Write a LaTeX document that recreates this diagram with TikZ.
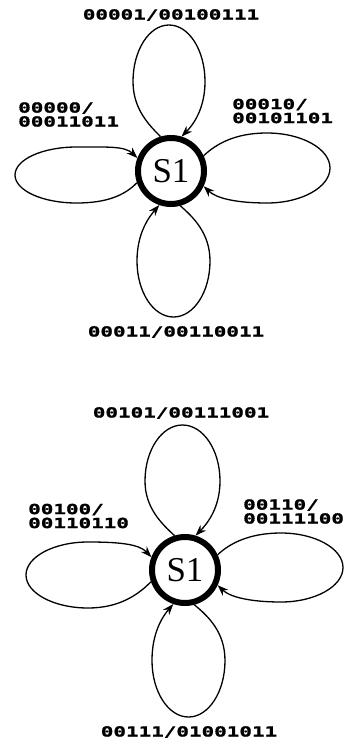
\documentclass[tikz,border=0pt]{standalone}
\usepackage{fontspec}
\newfontfamily\lblfont[FakeStretch=1.5,FakeBold=1.2]{DejaVu Sans Mono Bold}
\newfontfamily\statefont{Liberation Serif}
\usetikzlibrary{arrows.meta}
\begin{document}
\begin{tikzpicture}[x=1bp,y=-1bp,
  state/.style={circle,draw,line width=6bp,minimum size=66bp,inner sep=0pt,font=\statefont\fontsize{35}{35}\selectfont},
  selfloop/.style={line width=1.3bp,-{Stealth[length=11bp,width=8bp]}},
  lbl/.style={font=\lblfont\fontsize{14}{14}\selectfont,inner sep=0pt,align=left}]
\useasboundingbox (0,0) rectangle (348,741);
% ---------- top diagram ----------
\begin{scope}[shift={(171,171)}]
  \node[state] (a) at (0,0) {S1};
  % top loop
  \draw[selfloop] (a.107) .. controls (-22,-46) and (-38,-62) .. (-38,-89.5)
        .. controls (-38,-120.7) and (-21.9,-146) .. (-2,-146)
        .. controls (17.9,-146) and (34,-120.7) .. (34,-89.5)
        .. controls (34,-62) and (22,-46) .. (a.73);
  % left loop
  \draw[selfloop] (a.199) .. controls (-46,24) and (-63.5,32) .. (-94.5,32)
        .. controls (-128.5,32) and (-156,19.5) .. (-156,4)
        .. controls (-156,-11.5) and (-128.5,-24) .. (-94.5,-24)
        .. controls (-63.5,-24) and (-46,-25) .. (a.159);
  % right loop
  \draw[selfloop] (a.25) .. controls (45,-27) and (64,-38) .. (96,-38)
        .. controls (131,-38) and (159,-22) .. (159,-3)
        .. controls (159,16) and (131,32) .. (96,32)
        .. controls (64,32) and (45,27) .. (a.-25);
  % bottom loop
  \draw[selfloop] (a.285) .. controls (22,46) and (39,62) .. (39,90)
        .. controls (39,121) and (22.7,146) .. (2.5,146)
        .. controls (-17.7,146) and (-34,121) .. (-34,90)
        .. controls (-34,62) and (-22,46) .. (a.251);
  \node[lbl] (ta) at (0,-156) {00001/00100111};
  \node[lbl,anchor=west] (la) at (-153,-56.5) {00000/\\00011011};
  \node[lbl,anchor=west] (ra) at (61,-60) {00010/\\00101101};
  \node[lbl] (ba) at (5,161) {00011/00110011};
\end{scope}
% ---------- bottom diagram ----------
\begin{scope}[shift={(185,570)}]
  \node[state] (b) at (0,0) {S1};
  % top loop
  \draw[selfloop] (b.107) .. controls (-23,-46) and (-40,-62) .. (-40,-89)
        .. controls (-40,-120) and (-23.2,-145) .. (-2.5,-145)
        .. controls (18.2,-145) and (35,-120) .. (35,-89)
        .. controls (35,-62) and (22,-46) .. (b.73);
  % left loop
  \draw[selfloop] (b.199) .. controls (-47,25) and (-66,38) .. (-97,38)
        .. controls (-131,38) and (-159,23.2) .. (-159,5)
        .. controls (-159,-13.2) and (-131,-28) .. (-97,-28)
        .. controls (-66,-28) and (-46,-26) .. (b.159);
  % right loop
  \draw[selfloop] (b.25) .. controls (45,-27) and (65,-37) .. (96,-37)
        .. controls (130,-37) and (158,-21.5) .. (158,-2.5)
        .. controls (158,16.5) and (130,32) .. (96,32)
        .. controls (65,32) and (45,27) .. (b.-25);
  % bottom loop
  \draw[selfloop] (b.285) .. controls (23,46) and (40,62) .. (40,90.5)
        .. controls (40,121.7) and (23.7,147) .. (3.5,147)
        .. controls (-16.7,147) and (-33,121.7) .. (-33,90.5)
        .. controls (-33,62) and (-22,46) .. (b.251);
  \node[lbl] (tb) at (-4,-157) {00101/00111001};
  \node[lbl,anchor=west] (lb) at (-157,-54) {00100/\\00110110};
  \node[lbl,anchor=west] (rb) at (58,-58.5) {00110/\\00111100};
  \node[lbl] (bb) at (4,162) {00111/01001011};
\end{scope}
\end{tikzpicture}
\end{document}
